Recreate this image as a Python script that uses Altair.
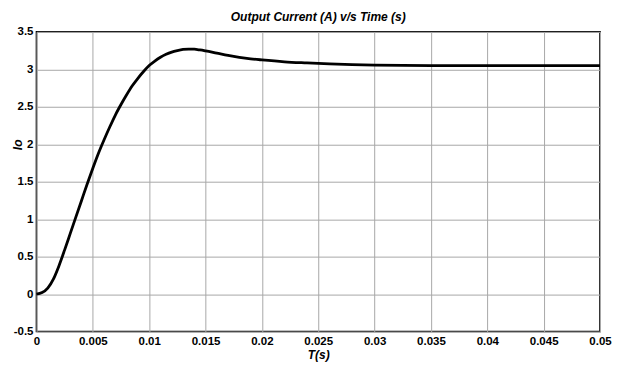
import altair as alt
import pandas as pd

# Time (s)
t = [0, 0.0005, 0.001, 0.0015, 0.002, 0.0025, 0.003, 0.0035, 0.004, 0.0045,
     0.005, 0.0055, 0.006, 0.0065, 0.007, 0.0075, 0.008, 0.0085, 0.009, 0.0095,
     0.01, 0.0105, 0.011, 0.0115, 0.012, 0.0125, 0.013, 0.0135, 0.014, 0.0145,
     0.015, 0.016, 0.017, 0.018, 0.019, 0.02, 0.022, 0.024, 0.026, 0.028,
     0.03, 0.035, 0.04, 0.045, 0.05]
# Output current Io (A)
io = [0, 0.02, 0.08, 0.20, 0.38, 0.59, 0.81, 1.03, 1.25, 1.47,
      1.68, 1.88, 2.06, 2.23, 2.39, 2.53, 2.66, 2.78, 2.88, 2.97,
      3.05, 3.11, 3.16, 3.20, 3.23, 3.25, 3.265, 3.27, 3.268, 3.258,
      3.245, 3.215, 3.185, 3.16, 3.14, 3.125, 3.10, 3.085, 3.072, 3.062,
      3.056, 3.05, 3.05, 3.05, 3.05]

x_ticks = [0, 0.005, 0.01, 0.015, 0.02, 0.025, 0.03, 0.035, 0.04, 0.045, 0.05]
y_ticks = [-0.5, 0, 0.5, 1, 1.5, 2, 2.5, 3, 3.5]

df = pd.DataFrame({"t": t, "io": io})

FONT = "Liberation Sans"
LABEL_EXPR = "datum.value < 0 ? '-' + format(-datum.value, '~g') : format(datum.value, '~g')"

chart = alt.Chart(df).mark_line(
    color="black", strokeWidth=2.8, interpolate="monotone"
).encode(
    x=alt.X("t:Q", scale=alt.Scale(domain=[0, 0.05], nice=False),
            axis=alt.Axis(values=x_ticks, labelExpr=LABEL_EXPR, title="T(s)",
                          grid=True, ticks=False, labelPadding=4, labelFlush=False,
                          titleY=18, titleBaseline="top")),
    y=alt.Y("io:Q", scale=alt.Scale(domain=[-0.5, 3.5], nice=False),
            axis=alt.Axis(values=y_ticks, labelExpr=LABEL_EXPR, title="Io",
                          grid=True, ticks=False, labelPadding=3.5, labelFlush=False,
                          titleX=-18.5, titleY=112.6, titleBaseline="middle",
                          titleAlign="center")),
).properties(
    width=564,
    height=300,
    title=alt.TitleParams("Output Current (A) v/s Time (s)", offset=2,
                          frame="group",
                          font=FONT, fontSize=12, fontWeight="bold",
                          fontStyle="italic", color="black", anchor="middle"),
    autosize=alt.AutoSizeParams(type="none"),
    padding={"left": 28.5, "top": 23.7, "right": 14, "bottom": 35},
).configure_axis(
    labelFont=FONT, labelFontSize=11.5, labelFontWeight="bold", labelColor="black",
    titleFont=FONT, titleFontSize=12, titleFontWeight="bold", titleFontStyle="italic",
    titleColor="black",
    gridColor="#a8a8a8", gridWidth=1, gridOpacity=1,
    domain=False,
).configure_view(
    stroke="black", strokeWidth=1.6
)

chart.save("out.html", embed_options={"renderer": "svg", "actions": False})
